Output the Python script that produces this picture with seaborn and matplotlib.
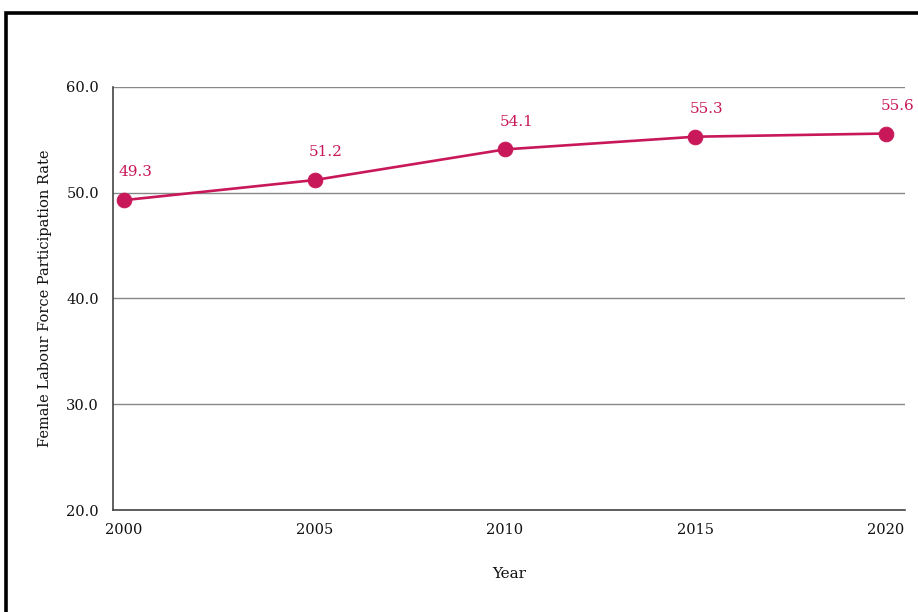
import matplotlib
matplotlib.use("Agg")
import matplotlib.pyplot as plt
from matplotlib.patches import Rectangle
import seaborn as sns
import pandas as pd

years = [2000, 2005, 2010, 2015, 2020]
rates = [49.3, 51.2, 54.1, 55.3, 55.6]
y_ticks = [20.0, 30.0, 40.0, 50.0, 60.0]

line_color = "#C8185A"

sns.set_theme(style="white")
plt.rcParams["font.family"] = ["DejaVu Serif"]

df = pd.DataFrame({"Year": years, "Rate": rates})

fig = plt.figure(figsize=(9.18, 6.12), dpi=100)
ax = fig.add_axes([113 / 918, 1 - 510 / 612, (905 - 113) / 918, (510 - 87) / 612])

# outer frame, running off the right and bottom of the canvas
fig.patches.append(Rectangle((5.5 / 918, -0.05), 1.2, 1 - 13 / 612 + 0.05,
                             transform=fig.transFigure, fill=False,
                             edgecolor="black", linewidth=2.6, zorder=10))

sns.lineplot(data=df, x="Year", y="Rate", ax=ax, color=line_color,
             linewidth=1.9, marker="o", markersize=10.5,
             markeredgecolor=line_color, zorder=3)

for x, y in zip(years, rates):
    ax.annotate(f"{y:.1f}", (x, y), xytext=(-4, 15), textcoords="offset points",
                ha="left", va="bottom", color=line_color, fontsize=11)

ax.set_xlim(1999.71, 2020.5)
ax.set_ylim(20, 60)
ax.set_xticks(years)
ax.set_xticklabels([str(y) for y in years])
ax.set_yticks(y_ticks)
ax.set_yticklabels([f"{t:.1f}" for t in y_ticks])
ax.tick_params(axis="both", length=0, labelsize=10.5, colors="#111111")
ax.tick_params(axis="x", pad=9)
ax.tick_params(axis="y", pad=10)

ax.grid(axis="y", color="#888888", linewidth=1.0)
ax.grid(axis="x", visible=False)
for side in ["top", "right"]:
    ax.spines[side].set_visible(False)
for side in ["left", "bottom"]:
    ax.spines[side].set_color("#444444")
    ax.spines[side].set_linewidth(1.2)

ax.set_xlabel("Year", fontsize=11, color="#111111", labelpad=22)
ax.set_ylabel("Female Labour Force Participation Rate", fontsize=10.5,
              color="#111111", labelpad=10)

fig.savefig("out.png", dpi=100)
